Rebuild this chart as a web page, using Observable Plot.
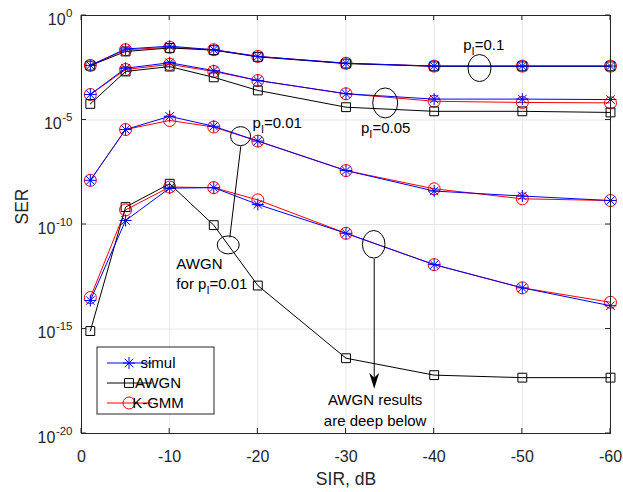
<!DOCTYPE html>
<html><head><meta charset="utf-8">
<script src="https://cdn.jsdelivr.net/npm/d3@7"></script>
<script src="https://cdn.jsdelivr.net/npm/@observablehq/plot@0.6"></script>
<style>
html,body{margin:0;padding:0;background:#fff;}
#chart{width:623px;height:492px;}
svg{font-family:"Liberation Sans",Arial,Helvetica,sans-serif;}
</style></head><body><div id="chart"></div>
<script>
// ---- data ----
const sir = [-1, -5, -10, -15, -20, -30, -40, -50, -60];
const simul_p010 = [4.1e-3, 2.5e-2, 3.4e-2, 2.3e-2, 1.1e-2, 5.2e-3, 3.8e-3, 3.8e-3, 3.8e-3];
const kgmm_p010  = [4.1e-3, 2.3e-2, 3.0e-2, 2.3e-2, 1.1e-2, 5.2e-3, 3.8e-3, 3.8e-3, 3.8e-3];
const awgn_p010  = [4.0e-3, 1.9e-2, 2.8e-2, 2.2e-2, 1.05e-2, 5.0e-3, 3.7e-3, 3.7e-3, 3.7e-3];
const simul_p005 = [1.66e-4, 3.0e-3, 5.5e-3, 2.3e-3, 7.8e-4, 1.8e-4, 1.0e-4, 1.0e-4, 9.5e-5];
const kgmm_p005  = [1.66e-4, 2.6e-3, 4.6e-3, 2.1e-3, 7.8e-4, 1.8e-4, 7.9e-5, 6.9e-5, 6.6e-5];
const awgn_p005  = [5.9e-5, 2.1e-3, 3.6e-3, 1.1e-3, 2.6e-4, 4.1e-5, 2.6e-5, 2.6e-5, 2.3e-5];
const simul_p001 = [1.3e-8, 3.5e-6, 1.5e-5, 5.0e-6, 9.8e-7, 3.8e-8, 4.0e-9, 2.3e-9, 1.4e-9];
const kgmm_p001  = [1.3e-8, 3.5e-6, 9.5e-6, 4.6e-6, 9.8e-7, 3.8e-8, 5.1e-9, 1.7e-9, 1.4e-9];
const awgn_p001  = [8.0e-16, 6.8e-10, 8.9e-9, 9.3e-11, 1.2e-13, 4.0e-17, 6.2e-18, 4.7e-18, 4.7e-18];
const simul_low  = [2.3e-14, 1.55e-10, 5.5e-9, 5.8e-9, 9.1e-10, 3.8e-11, 1.2e-12, 9.3e-14, 1.3e-14];
const kgmm_low   = [3.2e-14, 5.0e-10, 6.2e-9, 5.8e-9, 1.5e-9, 3.8e-11, 1.2e-12, 9.3e-14, 1.9e-14];

const xTicks = [0, -10, -20, -30, -40, -50, -60];
const yTicks = [1e0, 1e-5, 1e-10, 1e-15, 1e-20];
const xLabel = "SIR, dB";
const yLabel = "SER";
const legendNames = ["simul", "AWGN", "K-GMM"];

// annotations (data coordinates)
const annTexts = [
  {x: -43.3, y: 3.6e-2, text: "p_I=0.1", anchor: "start"},
  {x: -31.7, y: 3.9e-6, text: "p_I=0.05", anchor: "start"},
  {x: -19.4, y: 7.1e-6, text: "p_I=0.01", anchor: "start"},
  {x: -10.76, y: 1.3e-12, text: "AWGN", anchor: "start"},
  {x: -10.76, y: 1.45e-13, text: "for p_I=0.01", anchor: "start"},
  {x: -33.3, y: 3.8e-19, text: "AWGN results", anchor: "middle"},
  {x: -33.3, y: 3.7e-20, text: "are deep below", anchor: "middle"}
];
const annEllipses = [
  {x: -45.2, y: 2.9e-3}, {x: -34.5, y: 6.2e-5}, {x: -18.1, y: 1.6e-6},
  {x: -16.7, y: 1.0e-11}, {x: -33.2, y: 1.07e-11}
];
const annLinks = [
  {x1: -18.07, y1: 5.6e-7, x2: -16.82, y2: 2.4e-11},
  {x1: -33.2, y1: 2.3e-12, x2: -33.2, y2: 2.5e-18}
];
const annArrowTips = [{x: -33.2, y: 1.4e-18}];

// ---- styles ----
const colors = {"simul": "#0000ff", "AWGN": "#000000", "K-GMM": "#ff0000"};
const ellipseR = [[11.5, 13.5], [12.5, 15], [10, 9.5], [11, 9], [11.3, 13.8]];
const asterisk8 = {draw(ctx, size) {
  const r = Math.sqrt(size / Math.PI), d = r * Math.SQRT1_2;
  ctx.moveTo(-r, 0); ctx.lineTo(r, 0); ctx.moveTo(0, -r); ctx.lineTo(0, r);
  ctx.moveTo(-d, -d); ctx.lineTo(d, d); ctx.moveTo(-d, d); ctx.lineTo(d, -d);
}};
const arrowHead = {draw(ctx) {
  ctx.moveTo(0, 0); ctx.lineTo(-5, -16); ctx.lineTo(0, -11); ctx.lineTo(5, -16); ctx.closePath();
}};
const symbols = {"simul": asterisk8, "AWGN": "square", "K-GMM": "circle"};
const radii = {"simul": 6, "AWGN": 5, "K-GMM": 6};

const seriesList = [
  {kind: "K-GMM", vals: kgmm_p010}, {kind: "K-GMM", vals: kgmm_p005}, {kind: "K-GMM", vals: kgmm_p001}, {kind: "K-GMM", vals: kgmm_low},
  {kind: "AWGN", vals: awgn_p010}, {kind: "AWGN", vals: awgn_p005}, {kind: "AWGN", vals: awgn_p001},
  {kind: "simul", vals: simul_p010}, {kind: "simul", vals: simul_p005}, {kind: "simul", vals: simul_p001}, {kind: "simul", vals: simul_low}
];
const rows = seriesList.flatMap((s, si) => sir.map((x, i) => ({sir: x, ser: s.vals[i], kind: s.kind, id: si})));

function seriesMarks(kind) {
  const data = rows.filter(d => d.kind === kind);
  return [
    Plot.line(data, {x: "sir", y: "ser", z: "id", stroke: colors[kind], strokeWidth: 1}),
    Plot.dot(data, {x: "sir", y: "ser", symbol: symbols[kind], r: radii[kind], stroke: colors[kind], fill: "none", strokeWidth: 1})
  ];
}

function frameTicks(index, scales, values, dim) {
  const g = d3.create("svg:g").attr("stroke", "#262626").attr("fill", "none");
  const L = dim.marginLeft, R = dim.width - dim.marginRight, T = dim.marginTop, B = dim.height - dim.marginBottom;
  for (const t of xTicks) {
    const x = scales.x(t);
    g.append("line").attr("x1", x).attr("x2", x).attr("y1", B).attr("y2", B - 5);
    g.append("line").attr("x1", x).attr("x2", x).attr("y1", T).attr("y2", T + 5);
  }
  for (const t of yTicks) {
    const y = scales.y(t);
    g.append("line").attr("y1", y).attr("y2", y).attr("x1", L).attr("x2", L + 5);
    g.append("line").attr("y1", y).attr("y2", y).attr("x1", R).attr("x2", R - 5);
  }
  return g.node();
}

function ellipses(index, scales) {
  const g = d3.create("svg:g").attr("fill", "none").attr("stroke", "#000").attr("stroke-width", 1);
  annEllipses.forEach((e, i) => g.append("ellipse")
    .attr("cx", scales.x(e.x)).attr("cy", scales.y(e.y))
    .attr("rx", ellipseR[i][0]).attr("ry", ellipseR[i][1]));
  return g.node();
}

function legend(index, scales, values, dim) {
  const x0 = dim.marginLeft + 16, y1 = dim.height - dim.marginBottom - 19;
  const w = 117, h = 67;
  const g = d3.create("svg:g");
  g.append("rect").attr("x", x0).attr("y", y1 - h).attr("width", w).attr("height", h)
    .attr("fill", "#fff").attr("stroke", "#262626").attr("stroke-width", 1);
  legendNames.forEach((name, i) => {
    const y = y1 - h + 16 + i * 20;
    g.append("line").attr("x1", x0 + 10).attr("x2", x0 + 55).attr("y1", y).attr("y2", y)
      .attr("stroke", colors[name]).attr("stroke-width", 1);
    const sym = typeof symbols[name] === "string" ? (symbols[name] === "square" ? d3.symbolSquare : d3.symbolCircle) : symbols[name];
    g.append("path").attr("transform", `translate(${x0 + 32},${y})`)
      .attr("d", d3.symbol(sym, Math.PI * radii[name] * radii[name])())
      .attr("fill", "none").attr("stroke", colors[name]);
    g.append("text").attr("x", x0 + 61).attr("y", y).attr("dy", "0.35em")
      .attr("font-size", 15).attr("fill", "#000").text(name);
  });
  return g.node();
}

const chart = Plot.plot({
  width: 623, height: 492,
  marginLeft: 81, marginRight: 13, marginTop: 15, marginBottom: 59,
  style: {fontFamily: '"Liberation Sans", Arial, Helvetica, sans-serif', background: "#fff"},
  x: {type: "linear", domain: [0, -60]},
  y: {type: "log", domain: [1e-20, 1]},
  marks: [
    Plot.ruleX(xTicks, {x: d => d, stroke: "#e6e6e6", strokeWidth: 1}),
    Plot.ruleY(yTicks, {y: d => d, stroke: "#e6e6e6", strokeWidth: 1}),
    Plot.axisX(xTicks, {tickSize: 0, tickPadding: 17, fontSize: 16, fill: "#262626", label: null, tickFormat: d => String(d)}),
    Plot.axisY(yTicks, {tickSize: 0, tickPadding: 9, fontSize: 16, fill: "#262626", label: null, dy: 4,
      tickFormat: d => "10^" + Math.round(Math.log10(d))}),
    Plot.text([xLabel], {frameAnchor: "bottom", dy: 46, fontSize: 17.5, fill: "#262626", text: d => d, lineAnchor: "middle"}),
    Plot.text([yLabel], {frameAnchor: "left", dx: -59, rotate: -90, fontSize: 17.5, fill: "#262626", text: d => d, lineAnchor: "middle"}),
    ...seriesMarks("K-GMM"),
    ...seriesMarks("AWGN"),
    ...seriesMarks("simul"),
    ellipses,
    Plot.link(annLinks, {x1: "x1", y1: "y1", x2: "x2", y2: "y2", stroke: "#000", strokeWidth: 1}),
    Plot.dot(annArrowTips, {x: "x", y: "y", symbol: arrowHead, r: 5, fill: "#000", stroke: "none"}),
    Plot.text(annTexts.filter(d => d.anchor === "start"), {x: "x", y: "y", text: "text", textAnchor: "start", fontSize: 15, fill: "#000"}),
    Plot.text(annTexts.filter(d => d.anchor === "middle"), {x: "x", y: "y", text: "text", textAnchor: "middle", fontSize: 15, fill: "#000"}),
    legend,
    Plot.frame({stroke: "#262626", strokeWidth: 1}),
    frameTicks
  ]
});

// superscripts and subscripts as real tspans
d3.select(chart).selectAll("text").each(function() {
  const s = this.textContent;
  if (s.includes("^")) {
    const [base, exp] = s.split("^");
    this.textContent = "";
    const t = d3.select(this);
    t.append("tspan").text(base);
    t.append("tspan").attr("dy", -8).attr("dx", 0.5).attr("font-size", 11.5).text(exp);
  } else if (s.includes("_I")) {
    const [before, after] = s.split("_I");
    this.textContent = "";
    const t = d3.select(this);
    t.append("tspan").text(before);
    t.append("tspan").attr("dy", 5).attr("font-size", 11).text("I");
    t.append("tspan").attr("dy", -5).text(after);
  }
});

document.getElementById("chart").appendChild(chart);
</script>
</body></html>
